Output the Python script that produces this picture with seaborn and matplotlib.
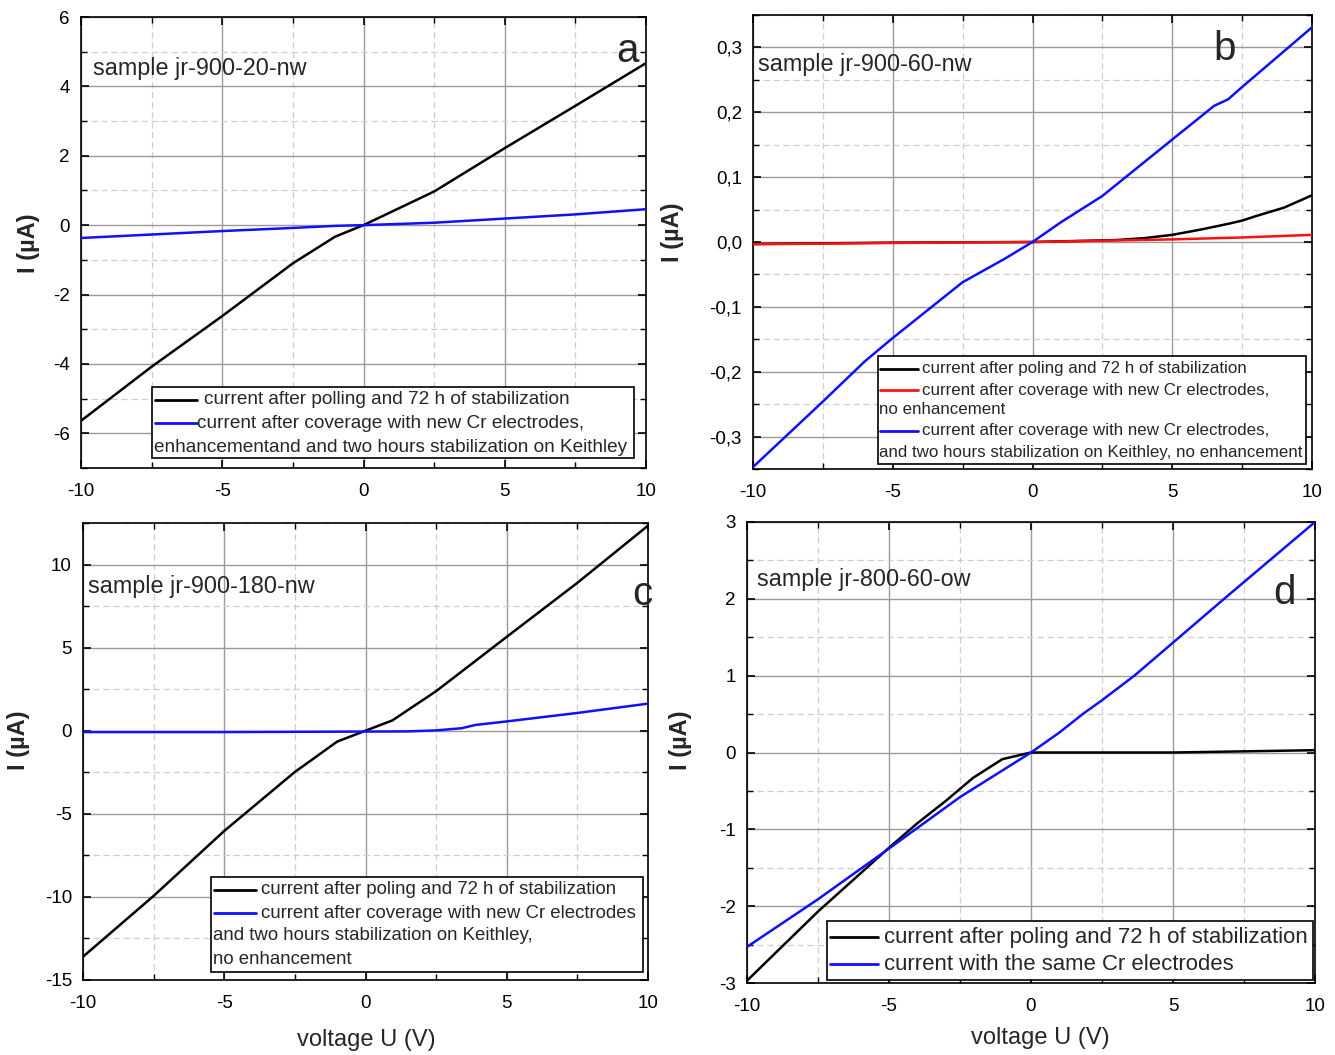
import matplotlib
matplotlib.use("Agg")
import matplotlib.pyplot as plt
from matplotlib.ticker import MultipleLocator, FuncFormatter
from matplotlib.patches import Rectangle
from matplotlib.lines import Line2D
import numpy as np
import pandas as pd
import seaborn as sns

# ---------------- data ----------------
# panel a
U_a = [-10, -7.5, -5, -2.5, -1, 0, 2.5, 5, 7.5, 10]
I_a_black = [-5.64, -4.08, -2.62, -1.10, -0.33, 0, 0.97, 2.22, 3.44, 4.67]
I_a_blue = [-0.37, -0.27, -0.17, -0.08, -0.02, 0, 0.07, 0.19, 0.31, 0.46]

# panel b
U_b_black = [-10, -5, 0, 1, 2, 3, 4, 5, 6, 7, 7.5, 8, 9, 10]
I_b_black = [-0.003, -0.001, 0, 0.001, 0.002, 0.003, 0.006, 0.011, 0.019, 0.028, 0.033, 0.040, 0.053, 0.072]
U_b_red = [-10, -5, 0, 5, 7.5, 10]
I_b_red = [-0.0035, -0.0015, 0, 0.004, 0.007, 0.011]
U_b_blue = [-10, -7.5, -6, -5, -2.5, -1, 0, 1, 2.5, 5, 6.5, 7, 7.5, 10]
I_b_blue = [-0.347, -0.246, -0.184, -0.148, -0.062, -0.026, 0, 0.030, 0.071, 0.158, 0.210, 0.220, 0.239, 0.331]

# panel c
U_c_black = [-10, -7.5, -5, -2.5, -1.9, -1, 0, 0.95, 2.5, 5, 7.5, 10]
I_c_black = [-13.6, -9.94, -6.03, -2.48, -1.75, -0.65, 0, 0.62, 2.38, 5.65, 8.9, 12.34]
U_c_blue = [-10, -5, 0, 1.5, 2.5, 3.4, 3.9, 5, 7.5, 10]
I_c_blue = [-0.08, -0.08, -0.05, -0.04, 0.02, 0.15, 0.35, 0.56, 1.07, 1.63]

# panel d
U_d_black = [-10, -7.5, -5, -4, -3, -2.04, -1.01, 0, 5, 10]
I_d_black = [-2.97, -2.07, -1.24, -0.92, -0.63, -0.33, -0.087, 0, 0.0, 0.03]
U_d_blue = [-10, -7.5, -5, -2.5, 0, 1, 1.82, 2.5, 3.64, 5, 6.8, 8.4, 10]
I_d_blue = [-2.53, -1.91, -1.25, -0.58, 0, 0.26, 0.5, 0.68, 1.0, 1.43, 2.0, 2.5, 3.0]

samples = ["sample jr-900-20-nw", "sample jr-900-60-nw", "sample jr-900-180-nw", "sample jr-800-60-ow"]
letters = ["a", "b", "c", "d"]

# ---------------- style ----------------
sns.set_theme(style="white")
plt.rcParams["font.family"] = ["Liberation Sans", "DejaVu Sans"]
plt.rcParams["axes.linewidth"] = 1.2

W, H = 1335, 1055
fig = plt.figure(figsize=(W / 100, H / 100), dpi=100)


def px_axes(l, t, r, b):
    return fig.add_axes([l / W, 1 - b / H, (r - l) / W, (b - t) / H])


def style_axes(ax, ylim, ymaj, ymin, comma=False):
    ax.set_xlim(-10, 10)
    ax.set_ylim(*ylim)
    ax.xaxis.set_major_locator(MultipleLocator(5))
    ax.xaxis.set_minor_locator(MultipleLocator(2.5))
    ax.yaxis.set_major_locator(MultipleLocator(ymaj))
    ax.yaxis.set_minor_locator(MultipleLocator(ymin))
    ax.grid(which="major", color="#9a9a9a", lw=1.0, ls="-", zorder=0)
    ax.grid(which="minor", color="#cfcfcf", lw=0.9, ls=(0, (5, 3)), zorder=0)
    ax.set_axisbelow(True)
    ax.tick_params(which="both", direction="in", top=True, right=True,
                   bottom=True, left=True, colors="black", labelsize=13.5)
    ax.tick_params(which="major", length=6, width=1.2)
    ax.tick_params(which="minor", length=4, width=1.0)
    ax.tick_params(axis="x", which="major", pad=11)
    ax.tick_params(axis="y", which="major", pad=8)
    for s in ax.spines.values():
        s.set_color("black")
        s.set_visible(True)
    if comma:
        ax.yaxis.set_major_formatter(FuncFormatter(lambda v, p: f"{v:.1f}".replace(".", ",").replace("-0,0", "0,0")))
    else:
        ax.yaxis.set_major_formatter(FuncFormatter(lambda v, p: f"{v:g}"))
    ax.xaxis.set_major_formatter(FuncFormatter(lambda v, p: f"{v:g}"))
    ax.set_xlabel("")
    ax.set_ylabel("")


def draw_legend(box, rows, fs, line_x):
    """box: (l, t, r, b) pixels; rows: list of (y_px, color or None, text, text_x_px)"""
    l, t, r, b = box
    rect = Rectangle((l / W, 1 - b / H), (r - l) / W, (b - t) / H, transform=fig.transFigure,
                     facecolor="white", edgecolor="black", lw=1.2, zorder=10)
    fig.add_artist(rect)
    for y, col, txt, tx in rows:
        if col is not None:
            fig.add_artist(Line2D([line_x[0] / W, line_x[1] / W], [1 - y / H, 1 - y / H],
                                  transform=fig.transFigure, color=col, lw=2.0, zorder=11))
        fig.text(tx / W, 1 - y / H, txt, fontsize=fs, va="center", ha="left", zorder=12)


def plot_series(ax, x, y, color):
    df = pd.DataFrame({"U": x, "I": y})
    sns.lineplot(data=df, x="U", y="I", ax=ax, color=color, lw=1.8, legend=False,
                 sort=False, estimator=None, zorder=3)


# ---------------- panel a ----------------
ax_a = px_axes(81, 17, 646, 468)
plot_series(ax_a, U_a, I_a_black, "black")
plot_series(ax_a, U_a, I_a_blue, "#1010ff")
style_axes(ax_a, (-7, 6), 2, 1)

# ---------------- panel b ----------------
ax_b = px_axes(753, 15, 1312, 469)
plot_series(ax_b, U_b_black, I_b_black, "black")
plot_series(ax_b, U_b_red, I_b_red, "#ff1010")
plot_series(ax_b, U_b_blue, I_b_blue, "#1010ff")
style_axes(ax_b, (-0.35, 0.35), 0.1, 0.05, comma=True)

# ---------------- panel c ----------------
ax_c = px_axes(83, 523, 648, 980)
plot_series(ax_c, U_c_black, I_c_black, "black")
plot_series(ax_c, U_c_blue, I_c_blue, "#1010ff")
style_axes(ax_c, (-15, 12.5), 5, 2.5)

# ---------------- panel d ----------------
ax_d = px_axes(747, 522, 1315, 983)
plot_series(ax_d, U_d_black, I_d_black, "black")
plot_series(ax_d, U_d_blue, I_d_blue, "#1010ff")
style_axes(ax_d, (-3, 3), 1, 0.5)

axes = [ax_a, ax_b, ax_c, ax_d]
sample_pos = [(0.021, 0.885), (0.009, 0.89), (0.009, 0.862), (0.018, 0.876)]
letter_pos = [(0.968, 0.925), (0.844, 0.925), (0.99, 0.845), (0.947, 0.845)]
for ax, s, sp, lt, lp in zip(axes, samples, sample_pos, letters, letter_pos):
    ax.text(sp[0], sp[1], s, transform=ax.transAxes, fontsize=16.8, va="center", ha="left", zorder=6)
    ax.text(lp[0], lp[1], lt, transform=ax.transAxes, fontsize=29, va="center", ha="center", zorder=6)

# y labels
for x, y in [(28, 243), (672, 232), (18, 740), (680, 740)]:
    fig.text(x / W, 1 - y / H, "I (µA)", rotation=90, fontsize=17, fontweight="bold",
             va="center", ha="center")
# x labels
for x, y in [(366, 1040), (1040, 1038)]:
    fig.text(x / W, 1 - y / H, "voltage U (V)", fontsize=17, va="center", ha="center")

# legends
draw_legend((152, 387, 634, 458),
            [(400, "black", "current after polling and 72 h of stabilization", 204),
             (423, "#1010ff", "current after coverage with new Cr electrodes,", 197),
             (447, None, "enhancementand and two hours stabilization on Keithley", 154)],
            13.7, (155, 197))
draw_legend((878, 356, 1306, 464),
            [(369, "black", "current after poling and 72 h of stabilization", 922),
             (390, "#ff1010", "current after coverage with new Cr electrodes,", 922),
             (410, None, "no enhancement", 879),
             (431, "#1010ff", "current after coverage with new Cr electrodes,", 922),
             (453, None, "and two hours stabilization on Keithley, no enhancement", 879)],
            12.2, (880, 918))
draw_legend((211, 877, 643, 972),
            [(890, "black", "current after poling and 72 h of stabilization", 261),
             (913, "#1010ff", "current after coverage with new Cr electrodes", 261),
             (936, None, "and two hours stabilization on Keithley,", 213),
             (960, None, "no enhancement", 213)],
            13.4, (214, 256))
draw_legend((827, 921, 1313, 980),
            [(937, "black", "current after poling and 72 h of stabilization", 884),
             (964, "#1010ff", "current with the same Cr electrodes", 884)],
            15.9, (830, 878))

fig.savefig("out.png", dpi=100, facecolor="white")
